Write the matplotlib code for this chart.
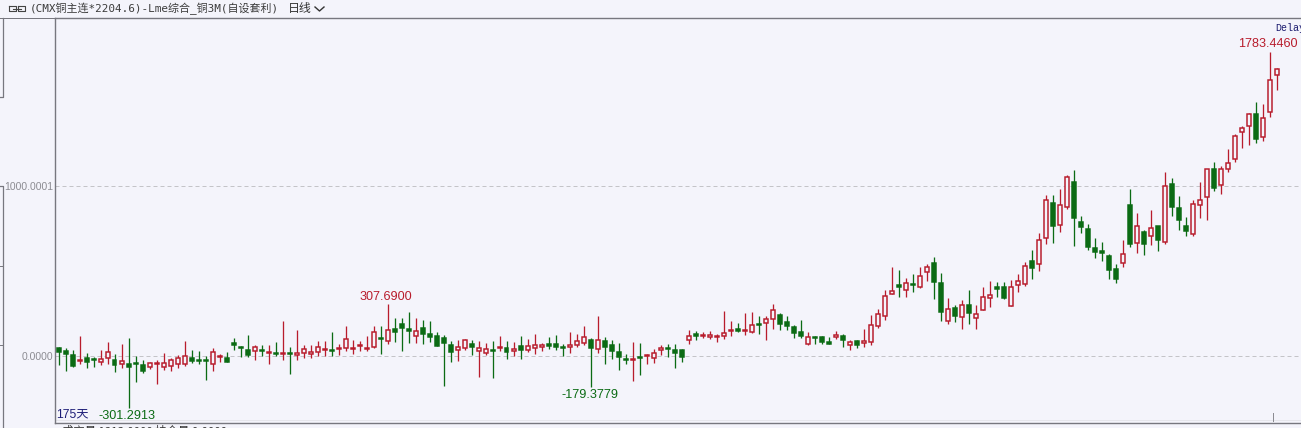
import matplotlib
matplotlib.use('Agg')
import matplotlib.pyplot as plt

plt.rcParams['font.family'] = ['Liberation Sans', 'Noto Sans CJK SC', 'DejaVu Sans']

opens = [47, 29, 10, -27, -12, -14, -33, -10, -20, -47,
         -43, -37, -51, -62, -47, -62, -57, -43, -47, -12,
         -20, -20, -43, -6, -12, 76, 57, 39, 31, 37,
         21, 21, 16, 21, 6, 21, 12, 27, 39, 39,
         43, 47, 45, 61, 41, 55, 105, 90, 162, 187,
         158, 121, 166, 129, 121, 109, 68, 37, 49, 74,
         31, 20, 39, 51, 51, 31, 62, 35, 51, 57,
         70, 70, 57, 57, 68, 80, 94, 45, 92, 68,
         27, -14, -20, -2, 0, -8, 35, 51, 39, 39,
         96, 129, 119, 115, 111, 117, 150, 162, 150, 143,
         187, 197, 219, 244, 199, 174, 141, 72, 111, 113,
         86, 115, 117, 64, 92, 80, 86, 178, 238, 365,
         416, 389, 426, 406, 494, 545, 428, 205, 281, 230,
         303, 225, 271, 342, 404, 404, 295, 418, 424, 557,
         543, 693, 896, 769, 873, 1019, 789, 748, 633, 615,
         586, 514, 547, 885, 666, 727, 707, 762, 670, 1008,
         867, 766, 717, 889, 935, 1100, 1004, 1100, 1158, 1314,
         1351, 1422, 1285, 1433, 1650]

highs = [55, 47, 39, 117, 20, -4, 39, 82, 16, 70,
         105, 0, -23, -33, -23, 20, -8, 6, 90, 39,
         31, 0, 47, 12, 23, 109, 62, 123, 66, 66,
         66, 82, 207, 55, 152, 66, 66, 90, 90, 141,
         74, 176, 98, 90, 121, 180, 176, 307.69, 223, 223,
         258, 223, 215, 207, 141, 125, 88, 94, 104, 98,
         88, 78, 88, 117, 88, 84, 117, 104, 129, 78,
         111, 123, 74, 141, 129, 176, 105, 234, 115, 94,
         80, 12, 82, 76, 16, 43, 68, 74, 70, 45,
         156, 150, 141, 150, 129, 264, 207, 195, 254, 258,
         234, 234, 305, 256, 238, 182, 215, 145, 117, 117,
         113, 146, 133, 98, 94, 162, 240, 279, 387, 523,
         504, 461, 484, 523, 543, 580, 488, 340, 299, 328,
         387, 299, 404, 441, 436, 437, 449, 480, 553, 621,
         725, 943, 943, 982, 1060, 1090, 820, 777, 691, 670,
         602, 539, 684, 978, 840, 742, 855, 762, 1078, 1043,
         937, 816, 918, 1019, 1100, 1139, 1113, 1215, 1305, 1350,
         1426, 1488, 1480, 1783.446, 1691]

lows = [-53, -86, -62, -47, -66, -62, -53, -43, -92, -66,
        -301.2913, -150, -98, -72, -160, -78, -86, -66, -59, -39,
        -43, -137, -86, -35, -35, 35, -4, -4, -23, 0,
        -47, 0, -23, -105, -20, -12, -12, 4, 0, 4,
        8, 31, 12, 31, 31, 47, 16, 74, 82, 31,
        78, 78, 70, 86, 59, -176, -33, -29, 39, 6,
        -121, 6, -129, 31, -18, 4, -18, 23, 14, 31,
        45, 39, 0, 18, 55, 66, -179.3779, 20, -47, -14,
        -82, -43, -146, -107, -47, -39, 10, -6, -66, -35,
        72, 94, 105, 102, 86, 102, 117, 141, 125, 137,
        129, 94, 158, 152, 152, 105, 107, 64, 72, 74,
        70, 102, 53, 37, 51, 55, 64, 166, 211, 363,
        348, 346, 375, 398, 441, 334, 205, 191, 201, 158,
        187, 158, 270, 289, 348, 334, 293, 375, 412, 451,
        500, 660, 662, 727, 861, 648, 723, 625, 578, 559,
        453, 430, 523, 641, 605, 596, 650, 617, 656, 824,
        738, 703, 705, 812, 797, 967, 951, 1078, 1139, 1219,
        1238, 1250, 1262, 1404, 1562]

closes = [27, 16, -57, -20, -33, -20, -14, 27, -51, -25,
          -62, -47, -86, -41, -41, -41, -20, -12, 4, -27,
          -25, -25, 27, -2, -33, 68, 51, 6, 57, 31,
          27, 16, 21, 16, 21, 41, 27, 57, 45, 33,
          49, 104, 51, 66, 51, 145, 100, 156, 141, 164,
          150, 150, 133, 113, 62, 78, 25, 57, 98, 55,
          51, 45, 33, 57, 25, 45, 37, 62, 68, 64,
          62, 53, 51, 64, 88, 115, 47, 94, 57, 33,
          -4, -20, -14, -8, 6, 21, 51, 43, 20, -4,
          121, 121, 127, 123, 117, 139, 156, 146, 156, 186,
          182, 217, 273, 189, 176, 137, 121, 113, 105, 86,
          74, 125, 96, 86, 64, 88, 186, 250, 352, 385,
          408, 432, 418, 473, 521, 436, 260, 279, 236, 299,
          254, 250, 350, 361, 396, 340, 408, 439, 531, 518,
          684, 918, 764, 889, 1049, 809, 758, 641, 611, 607,
          506, 455, 602, 656, 766, 656, 754, 682, 996, 875,
          799, 734, 894, 918, 1098, 986, 1100, 1133, 1293, 1340,
          1422, 1275, 1396, 1621, 1685]

grid_levels = [0, 1000]
grid_labels = ['0.0000', '1000.0001']
title_text = '(CMX铜主连*2204.6)-Lme综合_铜3M(自设套利)'
bg = '#f4f4fb'
red = '#b81c2c'
green = '#0b6b14'
frame = '#77777f'
W, H = 1301, 428
px = 0.72  # one pixel in points at dpi 100

fig = plt.figure(figsize=(W / 100, H / 100), dpi=100, facecolor=bg)

# main chart: x 55..1301, y 18..423 in picture pixels
ax = fig.add_axes([55 / W, (H - 423) / H, (W - 55) / W, 405 / H], facecolor=bg)
ax.set_xlim(-0.5, 177.5)
ax.set_ylim(-390.7, 1981.8)
ax.spines['right'].set_visible(False)
for side in ['top', 'bottom', 'left']:
    ax.spines[side].set_color(frame)
    ax.spines[side].set_linewidth(1.0)
ax.set_xticks([])
ax.set_yticks(grid_levels)
ax.set_yticklabels(grid_labels, color='#8c8c92', fontsize=7.5)
ax.tick_params(axis='y', length=0, pad=1.5)
for level in grid_levels:
    ax.axhline(level, color='#c4c4c8', lw=px, ls=(0, (4, 3)), zorder=1)
ax.axhline(-373, color='#e6e6ec', lw=px, zorder=0)

for i in range(len(opens)):
    up = closes[i] >= opens[i]
    col = red if up else green
    ax.vlines(i, lows[i], highs[i], color=col, lw=1.3 * px, zorder=2)
    ax.bar(i, max(abs(closes[i] - opens[i]), 5), bottom=min(opens[i], closes[i]), width=4 / 7,
           facecolor=bg if up else col, edgecolor=col, linewidth=1.5 * px, zorder=3)

# high/low labels
ax.annotate(f'{highs[47]:.4f}', (47, highs[47]), xytext=(-1, 5), textcoords='offset points',
            ha='center', va='center', color=red, fontsize=9.1)
ax.annotate(f'{highs[173]:.4f}', (173, highs[173]), xytext=(-1, 5.5), textcoords='offset points',
            ha='center', va='center', color=red, fontsize=9.1)
ax.annotate(f'{lows[10]:.4f}', (10, lows[10]), xytext=(-1, -6), textcoords='offset points',
            ha='center', va='center', color=green, fontsize=9.1)
ax.annotate(f'{lows[76]:.4f}', (76, lows[76]), xytext=(0, -6), textcoords='offset points',
            ha='center', va='center', color=green, fontsize=9.1)

# overlay in picture pixels for the window furniture
top = fig.add_axes([0, 0, 1, 1], facecolor='none')
top.set_xlim(0, W)
top.set_ylim(H, 0)
top.axis('off')

top.text(30, 8.5, title_text, fontsize=7.9, color='#3c3c3c', va='center', ha='left',
         family=['DejaVu Sans Mono', 'Noto Sans CJK SC'])
top.text(288, 8.5, '日线', fontsize=8.6, color='#333333', va='center', ha='left',
         family=['Noto Sans CJK SC'])
top.plot([315, 319.5, 324], [7, 11, 7], color='#333333', lw=1.0)
top.plot([9, 16, 16, 9, 9], [6, 6, 11, 11, 6], color='#444444', lw=0.8)
top.plot([18, 25, 25, 18, 18], [6, 6, 11, 11, 6], color='#444444', lw=0.8)
top.plot([13, 21], [8.5, 8.5], color='#444444', lw=0.8)

top.text(1275, 28, 'Delay', fontsize=7.2, color='#1a1a6e', va='center', ha='left',
         family=['Liberation Mono'], clip_on=True)
top.text(56, 414, '175天', fontsize=8.8, color='#1e1e78', va='center', ha='left')
top.text(62, 431, '成交量 1213.0000 持仓量 0.0000', fontsize=8.2, color='#333333', va='center', ha='left',
         family=['Noto Sans CJK SC'], clip_on=True)
top.plot([1273, 1273], [413, 421], color='#8c8c92', lw=px)
top.plot([0, 55], [18, 18], color=frame, lw=0.72)

# scale strip on the far left
top.plot([3, 3, 0], [18, 97, 97], color=frame, lw=0.9)
top.plot([0, 3, 3], [186, 186, H], color=frame, lw=0.9)
top.plot([0, 3], [266, 266], color=frame, lw=0.7)
top.plot([0, 3], [345, 345], color=frame, lw=0.7)

fig.savefig('out.png', dpi=100, facecolor=bg)
